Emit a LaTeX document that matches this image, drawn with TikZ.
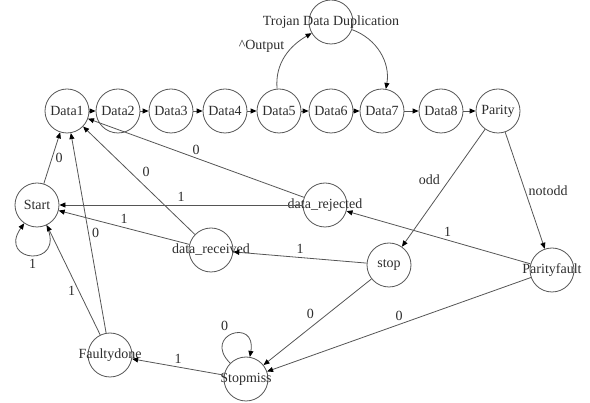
\documentclass[tikz,border=0pt]{standalone}
\usepackage{fontspec}
\setmainfont{Liberation Serif}
\usetikzlibrary{arrows.meta,shapes}

\definecolor{linegray}{RGB}{85,85,85}
\definecolor{textgray}{RGB}{45,45,45}

\begin{document}
\begin{tikzpicture}[x=1pt, y=-1pt, font=\fontsize{14}{16}\selectfont, text=textgray,
    state/.style={draw=linegray, circle, minimum size=44pt, inner sep=0pt, line width=0.8pt},
    trans/.style={draw=linegray, line width=0.8pt, -{Triangle[length=6pt, width=5pt, color=black]}}]
    \useasboundingbox (0,0) rectangle (590,403);

    % Define nodes
    \node[state, label=center:Data1] at (67,111) (d1) {};
    \node[state, label=center:Data2] at (118,111) (d2) {};
    \node[state, label=center:Data3] at (171,111) (d3) {};
    \node[state, label=center:Data4] at (225,111) (d4) {};
    \node[state, label=center:Data5] at (279,111) (d5) {};
    \node[state, label=center:Data6] at (331,111) (d6) {};
    \node[state, label=center:Data7] at (382,111) (d7) {};
    \node[state, label=center:Data8] at (441,111) (d8) {};
    \node[state, label=center:Parity] at (498,111) (parity) {};
    \node[state, label=center:Trojan Data Duplication] at (331,22) (trojan) {};
    \node[state, label=center:Start] at (37,205) (start) {};
    \node[state, label=center:data\_rejected] at (325,205) (rejected) {};
    \node[state, label=center:data\_received] at (211,250) (received) {};
    \node[state, label=center:stop] at (389,265) (stop) {};
    \node[state, label=center:Parityfault] at (552,270) (pfault) {};
    \node[state, label=center:Faultydone] at (110,355) (fdone) {};
    \node[state, label=center:Stopmiss] at (246,379) (smiss) {};

    % Draw arrows
    \draw[trans] (d1) -- (d2);
    \draw[trans] (d2) -- (d3);
    \draw[trans] (d3) -- (d4);
    \draw[trans] (d4) -- (d5);
    \draw[trans] (d5) -- (d6);
    \draw[trans] (d6) -- (d7);
    \draw[trans] (d7) -- (d8);
    \draw[trans] (d8) -- (parity);
    \draw[trans] (d5) to[out=95, in=210] node[pos=0.7, left=6pt] {\textasciicircum Output} (trojan);
    \draw[trans] (trojan) to[out=-20, in=80] (d7);
    \draw[trans] (parity) -- (stop) node[midway, above left] {odd};
    \draw[trans] (parity) -- (pfault) node[midway, right] {notodd};
    \draw[trans] (pfault) -- (rejected) node[pos=0.45, above] {1};
    \draw[trans] (pfault) -- (smiss) node[midway, above] {0};
    \draw[trans] (stop) -- (received) node[midway, above] {1};
    \draw[trans] (stop) -- (smiss) node[midway, above left] {0};
    \draw[trans] (rejected) -- (start) node[midway, above] {1};
    \draw[trans] (rejected) -- (d1) node[midway, above] {0};
    \draw[trans] (received) -- (start) node[midway, above] {1};
    \draw[trans] (received) -- (d1) node[midway, above right] {0};
    \draw[trans] (start) -- (d1) node[midway, right] {0};
    \draw[trans] (start) to[out=-65, in=-125, looseness=5.5] node[midway, below] {1} (start);
    \draw[trans] (fdone) -- (start) node[pos=0.4, left] {1};
    \draw[trans] (fdone) -- (d1) node[midway, right] {0};
    \draw[trans] (smiss) -- (fdone) node[midway, above] {1};
    \draw[trans] (smiss) to[out=135, in=80, looseness=5] node[midway, above left] {0} (smiss);
\end{tikzpicture}
\end{document}
